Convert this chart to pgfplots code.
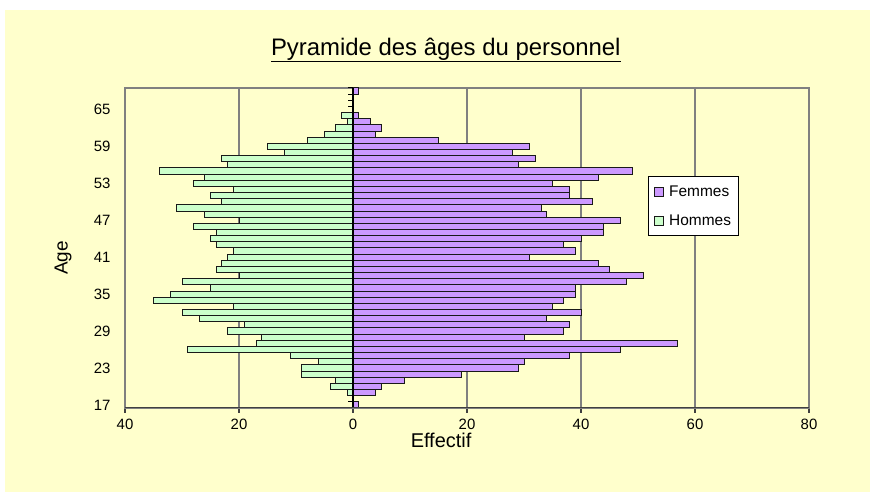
\documentclass[border=0pt]{standalone}
\usepackage{fontspec}
\setmainfont{Liberation Sans}
\usepackage{pgfplots}
\usepackage{pgfplotstable}
\pgfplotsset{compat=1.18}
\definecolor{bgyellow}{HTML}{FFFFCC}
\definecolor{femmes}{HTML}{CC99FF}
\definecolor{hommes}{HTML}{CCFFCC}
\definecolor{gridgray}{HTML}{808080}

% Femmes (positive side)
\pgfplotstableread{
age f
17 1
19 4
20 5
21 9
22 19
23 29
24 30
25 38
26 47
27 57
28 30
29 37
30 38
31 34
32 40
33 35
34 37
35 39
36 39
37 48
38 51
39 45
40 43
41 31
42 39
43 37
44 40
45 44
46 44
47 47
48 34
49 33
50 42
51 38
52 38
53 35
54 43
55 49
56 29
57 32
58 28
59 31
60 15
61 4
62 5
63 3
64 1
68 1
}\femmestab

% Hommes (plotted on the negative side)
\pgfplotstableread{
age h
19 -1
20 -4
21 -3
22 -9
23 -9
24 -6
25 -11
26 -29
27 -17
28 -16
29 -22
30 -19
31 -27
32 -30
33 -21
34 -35
35 -32
36 -25
37 -30
38 -20
39 -24
40 -23
41 -22
42 -21
43 -24
44 -25
45 -24
46 -28
47 -20
48 -26
49 -31
50 -23
51 -25
52 -21
53 -28
54 -26
55 -34
56 -22
57 -23
58 -12
59 -15
60 -8
61 -5
62 -3
63 -1
64 -2
}\hommestab

\begin{document}
\begin{tikzpicture}[x=1bp,y=1bp]
\fill[white] (0,0) rectangle (875,497);
\fill[bgyellow] (5,5) rectangle (870,487);
\begin{axis}[
  at={(125bp,89bp)}, anchor=south west,
  width=684bp, height=320bp, scale only axis,
  xmin=-40, xmax=80, ymin=16.5, ymax=68.5,
  xtick={-40,-20,...,80}, xticklabels={40,20,0,20,40,60,80},
  ytick={17,23,...,65},
  xtick pos=bottom,
  ytick style={draw=none},
  xtick style={draw=black!75, line width=1.2bp},
  tick align=outside, major tick length=5bp,
  xmajorgrids, grid style={gridgray, line width=1.2bp},
  axis line style={gridgray, line width=1.2bp},
  axis background/.style={fill=bgyellow},
  tick label style={font=\fontsize{15}{18}\selectfont},
  xticklabel style={yshift=-3bp},
  /pgf/number format/assume math mode=true,
  yticklabel style={xshift=-6bp},
  xlabel={Effectif},
  xlabel style={at={(axis description cs:0.462,-0.102)}, anchor=center, font=\fontsize{20}{24}\selectfont},
  ylabel={Age},
  ylabel style={at={(axis description cs:-0.0906,0.469)}, anchor=center, font=\fontsize{19}{22}\selectfont},
  title={\underline{Pyramide des âges du personnel}},
  title style={at={(axis description cs:0.469,1.10)}, anchor=center, font=\fontsize{24}{28}\selectfont},
  xbar, bar width=6.15bp, bar shift=0pt,
  legend style={at={(axis description cs:0.7646,0.725)}, anchor=north west,
    draw=black, fill=white, line width=0.8bp,
    font=\fontsize{15.5}{19}\selectfont, row sep=13bp,
    inner xsep=5.5bp, inner ysep=7bp, cells={anchor=west},
    /tikz/every odd column/.append style={column sep=3.5bp}},
  legend image code/.code={\draw[#1, line width=0.8bp] (0bp,-4.5bp) rectangle (9bp,4.5bp);},
]
\pgfplotsinvokeforeach{16.5,17.5,...,68.5}{
  \draw[black, line width=1bp] (axis cs:0,#1) -- ++(-5bp,0bp);
}
\addplot[fill=femmes, draw=black!90, line width=1bp] table[x=f, y=age] {\femmestab};
\addlegendentry{Femmes}
\addplot[fill=hommes, draw=black!90, line width=1bp] table[x=h, y=age] {\hommestab};
\addlegendentry{Hommes}
\draw[black, line width=1.6bp] (axis cs:0,16.5) -- (axis cs:0,68.5);
\draw[black!75, line width=1.6bp] (rel axis cs:0,0) -- (rel axis cs:1,0);
\end{axis}
\end{tikzpicture}
\end{document}
